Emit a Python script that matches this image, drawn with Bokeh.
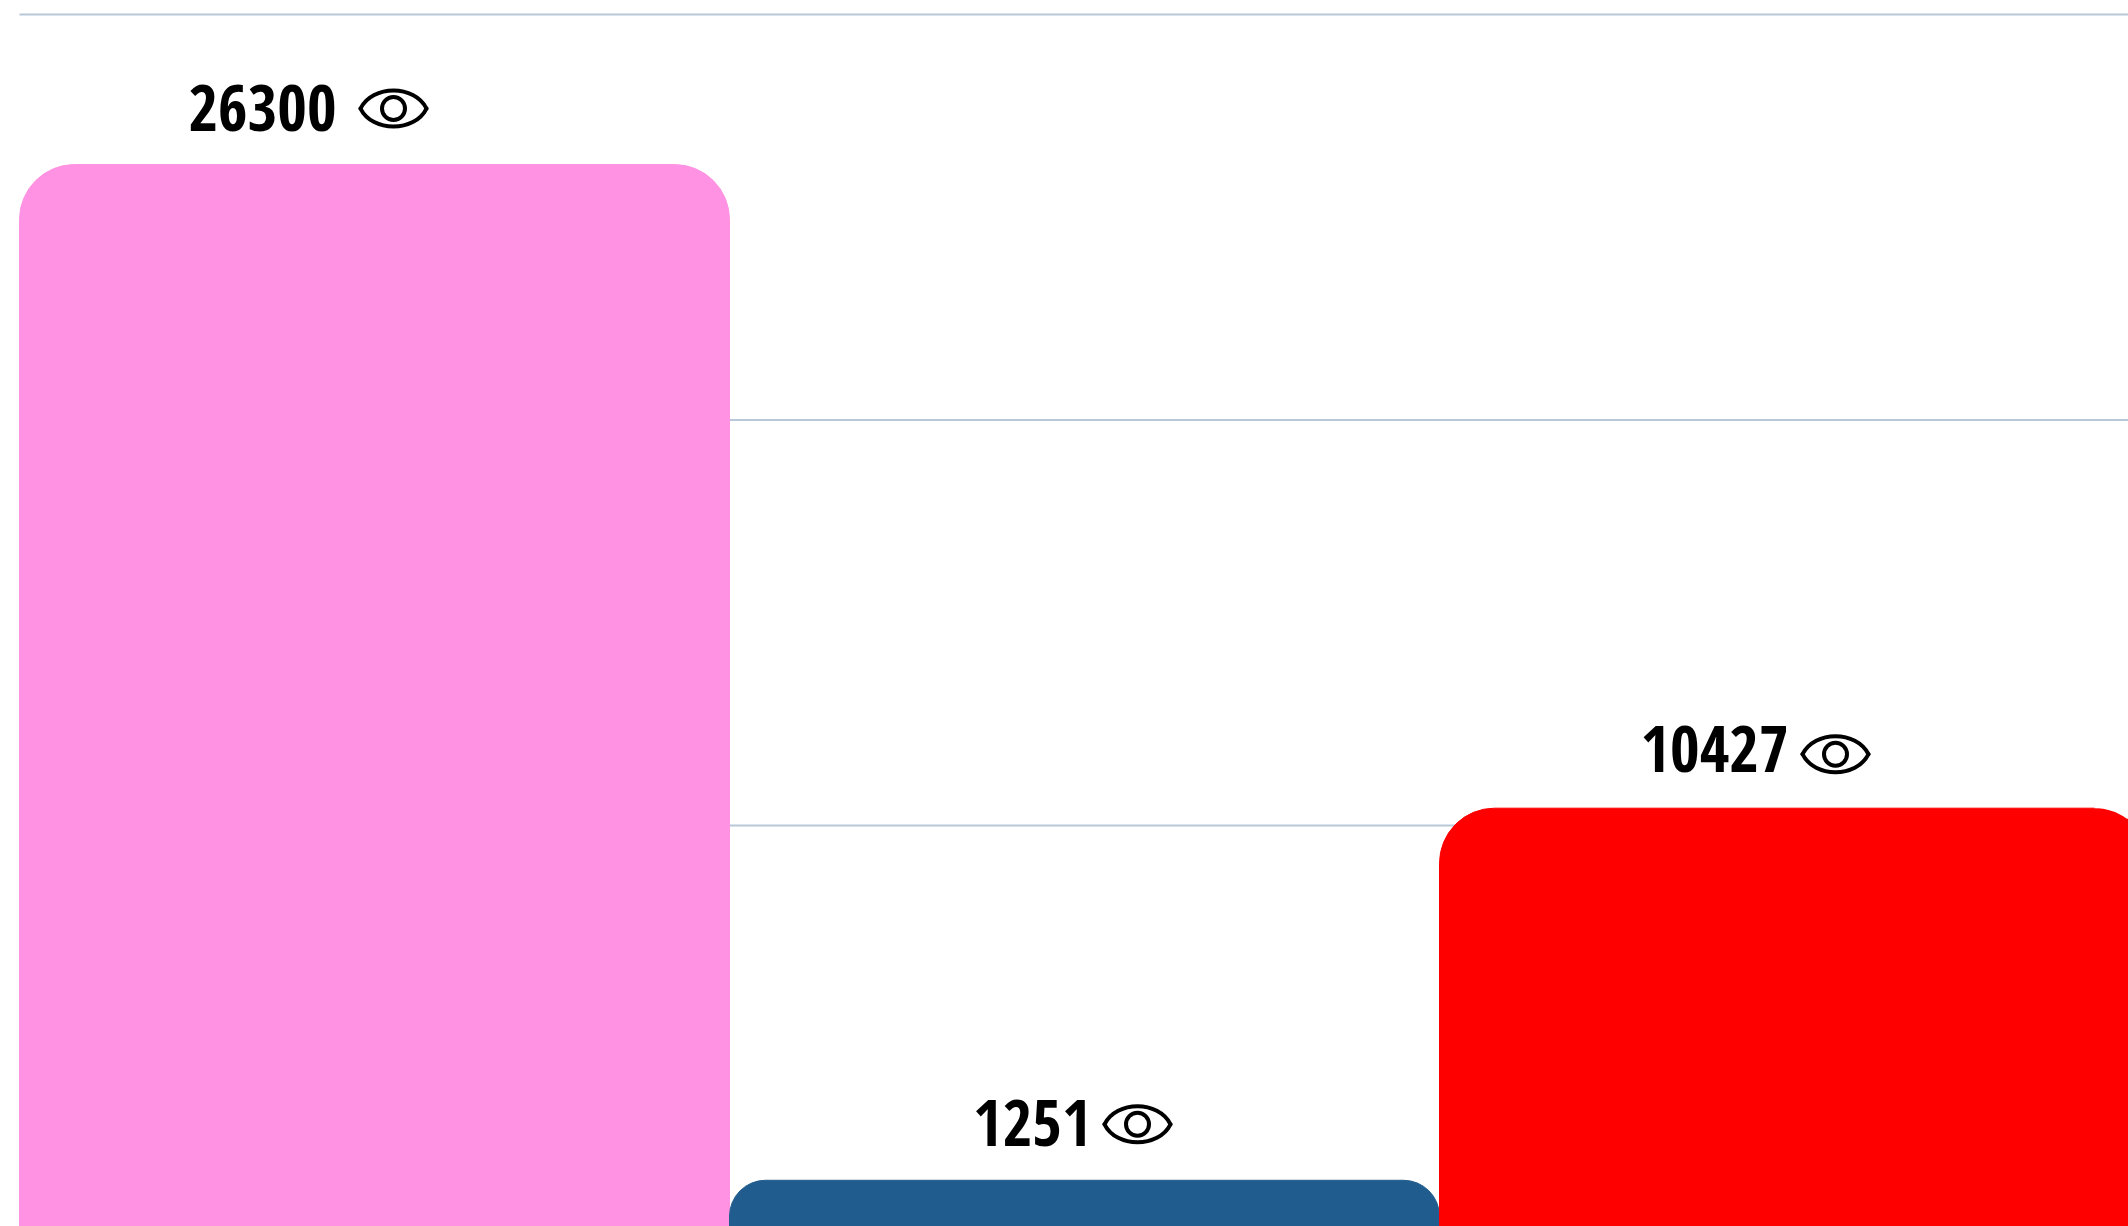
import math

from bokeh.core.properties import value
from bokeh.embed import file_html
from bokeh.models import ColumnDataSource, Range1d
from bokeh.plotting import figure
from bokeh.resources import INLINE

# --- data ---
views = [26300, 1251, 10427]
bar_colors = ["#FF92E2", "#205C8D", "#FF0000"]
grid_values = [10000, 20000, 30000]

# --- layout (pixels) ---
W, H = 2128, 1226
PX_PER_X = 710.0       # pixels per bar slot
PX_PER_Y = 405.5 / 10000
LEFT_PAD = 19
TOP_GRID_PX = 14
RADIUS = 55
# top-left, top-right radii; the last bar runs past the page edge
RADII = [(55, 55), (36, 36), (55, 0)]
TEXT_RIGHT = [-38, 7, -6]    # label right end relative to bar centre
EYE_CENTRE = [19, 53, 41]    # eye centre relative to bar centre
TEXT_RAISE = [31, 31, 33]
EYE_RAISE = [56, 56, 54]
BASELINE_FIX = 26

x0 = -0.5 - LEFT_PAD / PX_PER_X
x1 = x0 + W / PX_PER_X
y1 = grid_values[-1] + TOP_GRID_PX / PX_PER_Y
y0 = y1 - H / PX_PER_Y
p = figure(
    width=W, height=H, output_backend="svg", toolbar_location=None,
    x_range=Range1d(x0, x1),
    y_range=Range1d(y0, y1),
    min_border=0, outline_line_color=None, background_fill_color="white",
)
p.axis.visible = False
p.grid.visible = False

p.segment(x0=[-0.5] * len(grid_values), x1=[x1] * len(grid_values),
          y0=grid_values, y1=grid_values, line_color="#B8C8D8", line_width=2)

for i, (v, c, (rl, rr)) in enumerate(zip(views, bar_colors, RADII)):
    p.vbar(x=[i], top=[v], bottom=[0], width=1.0, fill_color=c, line_color=c, line_width=1,
           border_radius=(rl, rr, 0, 0))

# last bar's top-right corner, rounded beyond the page edge: cut with a white wedge
last = len(views) - 1
corner_cx = (last + 0.5) - RADIUS / PX_PER_X          # corner circle centre, data x
corner_cy = views[last] - RADIUS / PX_PER_Y           # corner circle centre, data y
xs, ys = [], []
for k in range(0, 41):
    a = math.pi / 2 - k / 40 * math.pi / 2
    px = math.cos(a) * RADIUS
    if corner_cx + px / PX_PER_X > x1:
        break
    xs.append(corner_cx + px / PX_PER_X)
    ys.append(corner_cy + math.sin(a) * RADIUS / PX_PER_Y)
xs += [x1, x1, xs[0]]
ys += [ys[-1], views[last] + 2 / PX_PER_Y, views[last] + 2 / PX_PER_Y]
p.patch(xs, ys, fill_color="white", line_color=None)

src = ColumnDataSource(dict(
    x=list(range(len(views))), y=views,
    label=[str(v) for v in views],
    xo=TEXT_RIGHT, yo=[-(t + BASELINE_FIX) for t in TEXT_RAISE],
))
p.text(x="x", y="y", text="label", x_offset="xo", y_offset="yo", source=src,
       text_font=value("Open Sans Condensed"), text_font_style="bold",
       text_font_size="64px", text_align="right", text_baseline="alphabetic",
       text_color="#000000")

# eye icons, built around each bar's value
ex = [i + EYE_CENTRE[i] / PX_PER_X for i in range(len(views))]
ey = [views[i] + EYE_RAISE[i] / PX_PER_Y for i in range(len(views))]
hw = 33 / PX_PER_X
cx = 21 / PX_PER_X
cy = 24 / PX_PER_Y
for sign in (1, -1):
    p.bezier(x0=[x - hw for x in ex], y0=ey, x1=[x + hw for x in ex], y1=ey,
             cx0=[x - cx for x in ex], cy0=[y + sign * cy for y in ey],
             cx1=[x + cx for x in ex], cy1=[y + sign * cy for y in ey],
             line_color="#000000", line_width=4, line_cap="round")
p.scatter(x=ex, y=ey, marker="circle", size=23, fill_color=None,
          line_color="#000000", line_width=4)

open("out.html", "w").write(file_html(p, INLINE))
